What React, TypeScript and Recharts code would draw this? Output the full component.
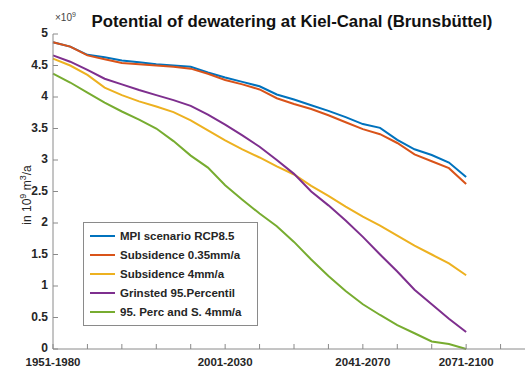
import { LineChart, Line, XAxis, YAxis, Legend } from "recharts"

// first year of each 30-year window (1951-1980 ... 2071-2100)
const startYears = [
  1951, 1956, 1961, 1966, 1971, 1976, 1981, 1986, 1991, 1996, 2001, 2006, 2011,
  2016, 2021, 2026, 2031, 2036, 2041, 2046, 2051, 2056, 2061, 2066, 2071,
]

// potential of dewatering, in 10^9 m³/a
const mpi = [
  4.87, 4.8, 4.67, 4.63, 4.58, 4.55, 4.52, 4.5, 4.48, 4.39, 4.31, 4.24, 4.17,
  4.04, 3.96, 3.87, 3.78, 3.68, 3.57, 3.51, 3.32, 3.17, 3.08, 2.96, 2.73,
]
const sub035 = [
  4.87, 4.8, 4.66, 4.6, 4.54, 4.52, 4.5, 4.48, 4.45, 4.37, 4.27, 4.2, 4.12,
  3.98, 3.89, 3.81, 3.71, 3.6, 3.49, 3.41, 3.27, 3.09, 2.98, 2.87, 2.62,
]
const sub4 = [
  4.61, 4.5, 4.35, 4.15, 4.03, 3.93, 3.85, 3.76, 3.63, 3.47, 3.31, 3.17, 3.04,
  2.9, 2.77, 2.59, 2.43, 2.26, 2.1, 1.96, 1.8, 1.64, 1.5, 1.36, 1.17,
]
const grinsted = [
  4.66, 4.56, 4.43, 4.29, 4.2, 4.11, 4.03, 3.95, 3.86, 3.72, 3.56, 3.39, 3.21,
  3.0, 2.78, 2.5, 2.28, 2.04, 1.78, 1.5, 1.23, 0.94, 0.71, 0.48, 0.27,
]
const percS4 = [
  4.37, 4.23, 4.07, 3.91, 3.77, 3.64, 3.5, 3.3, 3.07, 2.88, 2.6, 2.37, 2.15,
  1.95, 1.7, 1.42, 1.16, 0.92, 0.71, 0.54, 0.38, 0.25, 0.12, 0.08, 0.0,
]

const xTicks = [1951, 1961, 1971, 1981, 1991, 2001, 2011, 2021, 2031, 2041, 2051, 2061, 2071, 2081, 2091]
const labelledYears = [1951, 2001, 2041, 2071]
const xLabels = ["1951-1980", "2001-2030", "2041-2070", "2071-2100"]
const yTicks = [0, 0.5, 1, 1.5, 2, 2.5, 3, 3.5, 4, 4.5, 5]

const series = [
  { key: "mpi", name: "MPI scenario RCP8.5", values: mpi, color: "#0072BD" },
  { key: "sub035", name: "Subsidence 0.35mm/a", values: sub035, color: "#D95319" },
  { key: "sub4", name: "Subsidence 4mm/a", values: sub4, color: "#EDB120" },
  { key: "grinsted", name: "Grinsted 95.Percentil", values: grinsted, color: "#7E2F8E" },
  { key: "percS4", name: "95. Perc and S. 4mm/a", values: percS4, color: "#77AC30" },
]

const rows = startYears.map((year, i) => {
  const row: Record<string, number> = { year }
  series.forEach((s) => (row[s.key] = s.values[i]))
  return row
})

const font = "'Liberation Sans', Arial, Helvetica, sans-serif"
const axisColor = "#8a8a8a"
const textColor = "#262626"

function BottomTick(props: any) {
  const { x, y, payload } = props
  const i = labelledYears.indexOf(payload.value)
  return (
    <g>
      <line x1={x} y1={y} x2={x} y2={y - 5} stroke={axisColor} />
      {i >= 0 && (
        <text x={x} y={y + 17} textAnchor="middle" fontSize={11.5} fontWeight="bold" fill={textColor} fontFamily={font}>
          {xLabels[i]}
        </text>
      )}
    </g>
  )
}

function TopTick(props: any) {
  const { x, y } = props
  return <line x1={x} y1={y} x2={x} y2={y + 5} stroke={axisColor} />
}

function LeftTick(props: any) {
  const { x, y, payload } = props
  return (
    <g>
      <line x1={x} y1={y} x2={x + 5} y2={y} stroke={axisColor} />
      <text x={x - 5} y={y + 3} textAnchor="end" fontSize={12} fontWeight="bold" fill={textColor} fontFamily={font}>
        {String(payload.value)}
      </text>
    </g>
  )
}

function LegendBox() {
  return (
    <div
      style={{
        width: 173,
        height: 98,
        paddingTop: 4,
        boxSizing: "content-box",
        border: "1px solid #8a8a8a",
        background: "#fff",
        fontFamily: font,
      }}
    >
      {series.map((s) => (
        <div key={s.key} style={{ height: 18.8, display: "flex", alignItems: "center" }}>
          <div style={{ width: 25, height: 2, background: s.color, marginLeft: 6, marginRight: 5 }} />
          <span style={{ fontSize: 11.5, fontWeight: "bold", color: textColor, whiteSpace: "nowrap" }}>{s.name}</span>
        </div>
      ))}
    </div>
  )
}

export default function App() {
  return (
    <div
      style={{
        position: "fixed",
        left: 0,
        top: 0,
        width: 525,
        height: 367,
        overflow: "hidden",
        background: "#fff",
      }}
    >
      <LineChart
        width={545}
        height={367}
        data={rows}
        margin={{ top: 34, right: 10, bottom: 0, left: 0 }}
      >
        <XAxis
          dataKey="year"
          type="number"
          domain={[1951, 2091]}
          ticks={xTicks}
          tick={<BottomTick />}
          tickSize={0}
          tickMargin={0}
          tickLine={false}
          height={18}
          stroke={axisColor}
          interval={0}
        />
        <XAxis
          xAxisId="top"
          orientation="top"
          type="number"
          domain={[1951, 2091]}
          ticks={xTicks}
          tick={<TopTick />}
          tickSize={0}
          tickMargin={0}
          tickLine={false}
          height={0}
          stroke={axisColor}
          interval={0}
        />
        <YAxis
          type="number"
          domain={[0, 5]}
          ticks={yTicks}
          tick={<LeftTick />}
          tickSize={0}
          tickMargin={0}
          tickLine={false}
          width={53}
          stroke={axisColor}
          interval={0}
        />
        <Legend
          layout="vertical"
          align="center"
          verticalAlign="middle"
          wrapperStyle={{ left: 83, top: 222, width: 175 }}
          content={() => <LegendBox />}
        />
        {series.map((s) => (
          <Line
            key={s.key}
            type="linear"
            dataKey={s.key}
            name={s.name}
            stroke={s.color}
            strokeWidth={2}
            dot={false}
            isAnimationActive={false}
          />
        ))}
      </LineChart>
      <svg
        width={525}
        height={367}
        style={{ position: "absolute", left: 0, top: 0, pointerEvents: "none" }}
        fontFamily={font}
      >
        <text x={292} y={27} textAnchor="middle" fontSize={16.8} fontWeight="bold" fill="#111">
          Potential of dewatering at Kiel-Canal (Brunsbüttel)
        </text>
        <text x={55} y={21} fontSize={10} fill="#444">
          ×10<tspan dy={-4} fontSize={7}>9</tspan>
        </text>
        <text transform="rotate(-90)" x={-195} y={31} textAnchor="middle" fontSize={12} fill={textColor}>
          in 10<tspan dy={-5} fontSize={9}>9</tspan>
          <tspan dy={5}> m</tspan>
          <tspan dy={-5} fontSize={9}>3</tspan>
          <tspan dy={5}>/a</tspan>
        </text>
      </svg>
    </div>
  )
}
